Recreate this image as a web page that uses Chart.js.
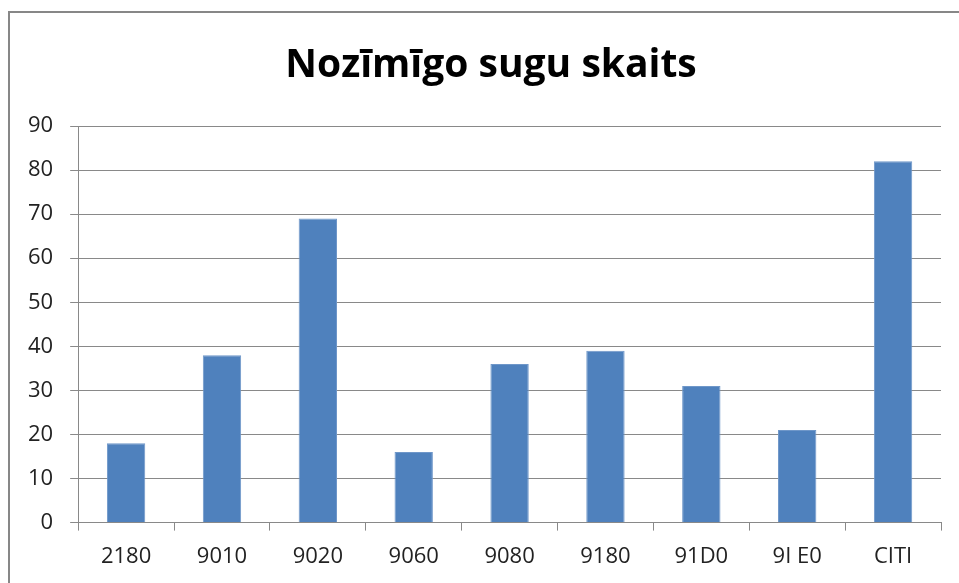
<!DOCTYPE html>
<html>
<head>
<meta charset="utf-8">
<script src="https://cdn.jsdelivr.net/npm/chart.js@4/dist/chart.umd.min.js"></script>
<style>
  body { margin: 0; background: #fff; }
  #wrap { position: relative; width: 959px; height: 583px; overflow: hidden; }
  #frame { position: absolute; left: 8px; top: 11px; width: 1200px; height: 1200px; border: 2px solid #878787; }
  #chart { position: absolute; left: 0; top: 0; }
</style>
</head>
<body>
<div id="wrap">
  <div id="frame"></div>
  <canvas id="chart" width="959" height="583"></canvas>
</div>
<script>
// Datos del gráfico
const categorias = ['2180', '9010', '9020', '9060', '9080', '9180', '91D0', '9I E0', 'CITI'];
const valores = [18, 38, 69, 16, 36, 39, 31, 21, 82];
const titulo = 'Nozīmīgo sugu skaits';

const gris = '#898989';
const fuenteTitulo = 'bold 39px "Open Sans"';

// Título centrado sobre el marco (no sobre el área del gráfico)
const tituloPlugin = {
    id: 'tituloMarco',
    afterDraw(chart) {
        const ctx = chart.ctx;
        ctx.save();
        ctx.font = fuenteTitulo;
        ctx.fillStyle = '#000';
        ctx.textAlign = 'center';
        ctx.textBaseline = 'middle';
        ctx.fillText(titulo, 491, 66);
        ctx.restore();
    }
};

const chart = new Chart(document.getElementById('chart'), {
    type: 'bar',
    data: {
        labels: categorias,
        datasets: [{
            data: valores,
            backgroundColor: '#4F81BD',
            borderColor: '#6F97C9',
            borderWidth: 1,
            categoryPercentage: 1,
            barPercentage: 0.4
        }]
    },
    options: {
        responsive: false,
        animation: false,
        layout: { padding: { left: 11, right: 18, top: 126, bottom: 0 } },
        plugins: {
            legend: { display: false },
            tooltip: { enabled: false },
            title: { display: false }
        },
        scales: {
            y: {
                min: 0,
                max: 90,
                ticks: {
                    stepSize: 10,
                    color: '#222',
                    padding: 17,
                    font: { family: 'Open Sans', size: 22 }
                },
                grid: { color: gris, lineWidth: 1, tickLength: 8 },
                border: { color: gris, width: 1 }
            },
            x: {
                ticks: {
                    color: '#222',
                    padding: 13,
                    font: { family: 'Open Sans', size: 22 }
                },
                grid: { drawOnChartArea: false, color: gris, tickLength: 8 },
                border: { color: gris, width: 1 }
            }
        }
    },
    plugins: [tituloPlugin]
});
</script>
</body>
</html>
